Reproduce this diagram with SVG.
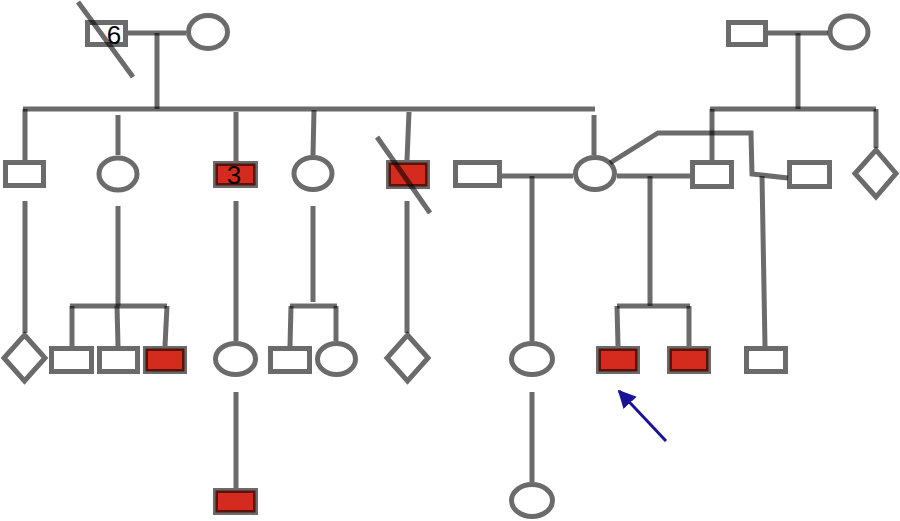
<svg xmlns="http://www.w3.org/2000/svg" width="900" height="521" viewBox="0 0 900 521">
<style>
.n{fill:#fff;stroke:#000;stroke-opacity:0.58;stroke-width:5}
.a{fill:#d52b1e;stroke:#000;stroke-opacity:0.58;stroke-width:5}
.c line,.c polyline{stroke:#000;stroke-opacity:0.58;stroke-width:5;fill:none}
.x{stroke:#000;stroke-opacity:0.58;stroke-width:5}
.t{font-family:"Liberation Sans",Arial,sans-serif;font-size:26px;fill:#000;text-anchor:middle}
</style>
<defs>
<marker id="ah" viewBox="0 0 10 10" refX="9" refY="5" markerWidth="6" markerHeight="6" orient="auto">
<path d="M0,0 L10,5 L0,10 z" fill="#1b1396"/>
</marker>
</defs>
<rect width="900" height="521" fill="#fff"/>
<g class="c" id="connectors">
<line x1="128" y1="33" x2="186" y2="33"/>
<line x1="157" y1="33" x2="157" y2="109"/>
<line x1="23" y1="109" x2="595" y2="109"/>
<line x1="25" y1="109" x2="25" y2="160"/>
<line x1="118" y1="115" x2="118" y2="155"/>
<line x1="236" y1="112" x2="236" y2="161"/>
<line x1="314" y1="110" x2="313" y2="155"/>
<line x1="409" y1="112" x2="407" y2="160"/>
<line x1="594" y1="115" x2="594" y2="155"/>
<line x1="768" y1="33" x2="828" y2="33"/>
<line x1="798" y1="33" x2="798" y2="109"/>
<line x1="710" y1="109" x2="876" y2="109"/>
<line x1="712" y1="109" x2="712" y2="160"/>
<line x1="876" y1="109" x2="876" y2="148"/>
<line x1="502" y1="176" x2="573" y2="176"/>
<line x1="617" y1="176" x2="690" y2="176"/>
<polyline points="610,163 658,133 751,133 752,174 788,178"/>
<line x1="532" y1="176" x2="532" y2="341"/>
<line x1="650" y1="176" x2="650" y2="306"/>
<line x1="762" y1="176" x2="765" y2="346"/>
<line x1="617" y1="306" x2="690" y2="306"/>
<line x1="617" y1="306" x2="618" y2="346"/>
<line x1="689" y1="306" x2="689" y2="346"/>
<line x1="532" y1="392" x2="532" y2="482"/>
<line x1="25" y1="201" x2="25" y2="333"/>
<line x1="118" y1="206" x2="118" y2="306"/>
<line x1="70" y1="306" x2="167" y2="306"/>
<line x1="72" y1="306" x2="72" y2="346"/>
<line x1="117" y1="306" x2="118" y2="346"/>
<line x1="167" y1="306" x2="165" y2="346"/>
<line x1="236" y1="201" x2="236" y2="341"/>
<line x1="236" y1="392" x2="236" y2="488"/>
<line x1="313" y1="206" x2="313" y2="302"/>
<line x1="290" y1="306" x2="337" y2="306"/>
<line x1="291" y1="306" x2="290" y2="346"/>
<line x1="336" y1="306" x2="336" y2="341"/>
<line x1="407" y1="201" x2="407" y2="333"/>
</g>
<g id="n-gen1-father"><rect class="n" x="87.5" y="22.5" width="38" height="22"/><text class="t" x="114" y="43.5">6</text><line class="x" x1="78" y1="2" x2="133" y2="77"/></g>
<g id="n-gen1-mother"><ellipse class="n" cx="208" cy="32" rx="19.5" ry="16.5"/></g>
<g id="n-gen1r-father"><rect class="n" x="728.5" y="22.5" width="37" height="22"/></g>
<g id="n-gen1r-mother"><ellipse class="n" cx="849" cy="32" rx="19" ry="16"/></g>
<g id="n-ii1"><rect class="n" x="5.5" y="162.5" width="38" height="23"/></g>
<g id="n-ii2"><ellipse class="n" cx="118" cy="174" rx="19" ry="16"/></g>
<g id="n-ii3"><rect class="a" x="215.5" y="163.5" width="40" height="22"/><text class="t" x="234" y="183.5">3</text></g>
<g id="n-ii4"><ellipse class="n" cx="313" cy="173.5" rx="19" ry="16"/></g>
<g id="n-ii5"><rect class="a" x="388.5" y="162.5" width="39" height="24"/><line class="x" x1="377" y1="137" x2="430" y2="213"/></g>
<g id="n-ii6"><rect class="n" x="455.5" y="162.5" width="44" height="23"/></g>
<g id="n-ii7"><ellipse class="n" cx="595" cy="173.5" rx="19.5" ry="16"/></g>
<g id="n-ii8"><rect class="n" x="692.5" y="162.5" width="39" height="24"/></g>
<g id="n-ii9"><rect class="n" x="789.5" y="162.5" width="40" height="24"/></g>
<g id="n-ii10"><polygon class="n" points="876,150 896,173.5 876,197 855,173.5"/></g>
<g id="n-iii1"><polygon class="n" points="24.5,335 45,358 24.5,381 4,358"/></g>
<g id="n-iii2"><rect class="n" x="51.5" y="348.5" width="40" height="23"/></g>
<g id="n-iii3"><rect class="n" x="99.5" y="348.5" width="38" height="23"/></g>
<g id="n-iii4"><rect class="a" x="145.5" y="348.5" width="39" height="23"/></g>
<g id="n-iii5"><ellipse class="n" cx="235.5" cy="359" rx="20" ry="15.5"/></g>
<g id="n-iii6"><rect class="n" x="270.5" y="348.5" width="39" height="23"/></g>
<g id="n-iii7"><ellipse class="n" cx="336.5" cy="359" rx="19" ry="15.5"/></g>
<g id="n-iii8"><polygon class="n" points="407.5,335 428,358 407.5,381 387,358"/></g>
<g id="n-iii9"><ellipse class="n" cx="532" cy="359" rx="20.5" ry="15.5"/></g>
<g id="n-iii10"><rect class="a" x="598.5" y="348.5" width="39" height="23"/></g>
<g id="n-iii11"><rect class="a" x="669.5" y="348.5" width="39" height="23"/></g>
<g id="n-iii12"><rect class="n" x="746.5" y="348.5" width="39" height="23"/></g>
<g id="n-iv1"><rect class="a" x="215.5" y="490.5" width="40" height="22"/></g>
<g id="n-iv2"><ellipse class="n" cx="532" cy="500.5" rx="20.5" ry="16"/></g>
<g id="proband-arrow"><line x1="666" y1="441" x2="619" y2="391" stroke="#1b1396" stroke-width="3" marker-end="url(#ah)"/></g>
</svg>
